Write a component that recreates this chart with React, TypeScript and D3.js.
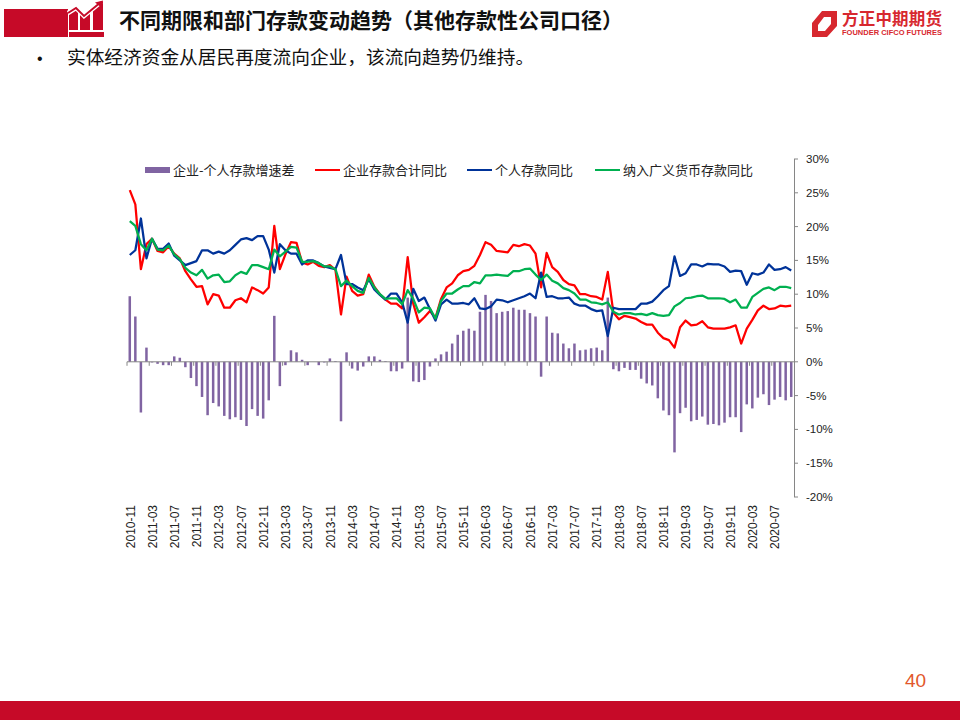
import React from "react";
import * as d3 from "d3";

const spread = [9.7,6.7,-7.5,2.1,-0.1,-0.3,-0.5,-0.5,0.8,0.6,-0.8,-2.4,-3.6,-5.2,-7.9,-6.1,-6.6,-8,-8.5,-8.2,-8.6,-9.5,-7,-8,-8.4,-5.7,6.8,-3.6,-0.5,1.7,1.4,0.3,-0.5,0,-0.5,-0.1,0.5,0.1,-8.8,1.4,-1,-1.3,-0.7,0.8,0.8,0.3,0.1,-1.4,-1.4,-1,9.5,-2.9,-3,-2.7,-0.7,0.5,1.1,1.5,2.7,4,4.6,4.9,4.6,7.4,9.9,9,7.2,7.4,7.5,8,7.7,7.7,7.2,6.7,-2.2,6.7,4.3,4.2,2.7,2,2.7,1.7,1.8,2,2.1,1.7,9.5,-1.1,-1.4,-0.9,-1.2,-1.2,-2.5,-3.2,-3.5,-5.4,-7.2,-7.9,-13.4,-7.6,-6.8,-8.8,-8.6,-8.1,-9.3,-9.2,-9.4,-9,-8.2,-8.2,-10.4,-6.3,-6.9,-5.3,-4.8,-6.4,-5.6,-5.2,-5.7,-5.2];
const corporate = [25.4,23.3,13.7,17.4,18.2,16.4,16.2,17.1,16,15.3,13.4,12.2,11.1,11.2,8.5,10,9.8,8,8,9.1,9.4,8.8,11,10.6,10.1,11,20.1,13.7,15.9,17.7,17.6,14.7,14.4,14.8,14.2,14,14.3,13.6,7,12.6,10.5,9.8,10,12.9,11.1,10,9.2,8.6,8.6,7.9,15.5,8.6,5.8,6.6,7.5,6.5,9.3,11,11.6,12.8,13.4,13.6,14.2,15.8,17.7,17.3,16.4,16.3,16.2,17.3,17.1,17.4,17.2,16,11,16.1,14,13.3,12.1,11.5,11.3,10,10,9.7,9.6,9.2,13.3,7.3,6.3,6.8,6.6,6.4,5.9,5.5,5.5,4.3,3.5,3.2,2.1,5.1,6.1,5.4,5.5,6,5.1,4.9,4.9,4.9,5.1,5.4,2.7,4.9,6.2,7.6,8.3,7.8,7.9,8.3,8.2,8.3];
const personal = [15.8,16.5,21.2,15.3,18.2,16.7,16.7,17.5,15.7,15,14.3,14.6,14.9,16.5,16.5,16,16.3,16,16.5,17.3,18.1,18.3,18,18.6,18.6,16.6,13.2,17.4,16.5,16,16,14.4,15,15,14.6,14.1,13.9,13.7,15.8,11.5,11.5,11,10.6,12.2,10.7,9.9,9.2,10.1,10.1,8.8,5.8,10.8,9,9.5,7.8,6.1,8.5,9.2,8.6,8.6,8.7,8.5,9.4,7.9,7.8,8.2,9.2,9.1,8.8,9.1,9.4,9.7,10.1,9.4,13.2,9.6,9.7,9.4,9.4,9.5,8.6,8.3,8.3,7.8,7.5,7.6,3.8,8,7.8,7.8,7.8,7.8,8.6,8.6,8.9,9.7,10.6,11.2,15.6,12.7,13.1,14.4,14.4,14.1,14.5,14.4,14.4,14.1,13.3,13.5,13.4,11.4,13.1,12.9,13.2,14.4,13.6,13.7,14,13.5];
const broadMoney = [20.8,20.1,17.4,16.5,18.2,16.6,16.5,17.2,15.9,15.2,13.9,13.2,12.8,13.6,12.3,12.8,12.9,11.8,11.9,12.8,13.3,13,14.3,14.3,14,13.7,16.6,15.6,16.3,17,16.9,14.8,14.8,14.9,14.6,14.1,14.1,13.7,11.2,12,11.2,10.5,10.2,12.4,11,10,9.3,9.4,9.4,8.5,10.6,9.3,7.3,8,7.9,6.4,9,10.1,10.1,10.7,11.2,11.2,11.8,11.6,12.8,12.8,12.9,12.8,12.7,13.4,13.4,13.7,13.8,12.9,12.1,12.9,12,11.6,10.9,10.6,10.1,9.2,9.2,8.8,8.7,8.5,8.8,7.4,7,7.2,7.2,7,7.1,6.9,7.2,6.9,6.8,6.9,8.2,8.7,9.4,9.5,9.7,9.8,9.4,9.4,9.4,9.3,8.8,9.2,8,8,9.6,10.2,10.8,11,10.6,11.1,11.1,10.9];
const tickLabels = ["2010-11","2011-03","2011-07","2011-11","2012-03","2012-07","2012-11","2013-03","2013-07","2013-11","2014-03","2014-07","2014-11","2015-03","2015-07","2015-11","2016-03","2016-07","2016-11","2017-03","2017-07","2017-11","2018-03","2018-07","2018-11","2019-03","2019-07","2019-11","2020-03","2020-07"];
const yTicks = [30,25,20,15,10,5,0,-5,-10,-15,-20];
const legendNames = ["企业-个人存款增速差","企业存款合计同比","个人存款同比","纳入广义货币存款同比"];

const RED = "#C60A28";
const FONT = "'Liberation Sans','Noto Sans CJK SC',sans-serif";
const CJK = "'Noto Sans CJK SC','Liberation Sans',sans-serif";

export default function App() {
  const x = d3.scaleBand<number>().domain(d3.range(spread.length)).range([127, 794]).paddingInner(0.55).paddingOuter(0.275);
  const step = x.step();
  const y = d3.scaleLinear().domain([-20, 30]).range([497, 159]);
  const cx = (i: number) => (x(i) as number) + x.bandwidth() / 2;
  const line = d3.line<number>().x((_, i) => cx(i)).y((d) => y(d));
  const series = [
    { v: corporate, c: "#FF0000" },
    { v: personal, c: "#003399" },
    { v: broadMoney, c: "#00B050" },
  ];
  const legendX = [145, 315, 467, 595];
  const gray = "#868686";
  return (
    <svg width={960} height={720} viewBox="0 0 960 720" style={{ position: "absolute", left: 0, top: 0, background: "#fff" }} fontFamily={FONT}>
      {/* header */}
      <rect x={4} y={9} width={64} height={28} fill={RED} />
      <path d="M69 30V14L76 9L78 10.5V30Z M80 30V12.5L84 16L90 11.5V30Z M93 30V9L103 1.5V30Z" fill={RED} />
      <rect x={69} y={32} width={35} height={5} fill={RED} />
      <polyline points="68,13 76,8 84,16 101,2" fill="none" stroke="#fff" strokeWidth={4.5} />
      <polyline points="68,13 76,8 84,16 101,2" fill="none" stroke={RED} strokeWidth={2} />
      <path d="M95 2.5L103 0.5L102 8Z" fill={RED} />
      <text x={119} y={28} fontFamily={CJK} fontSize={21} fontWeight={700} fill="#111">不同期限和部门存款变动趋势（其他存款性公司口径）</text>
      <text x={37} y={64} fontSize={16} fill="#111">•</text>
      <text x={67} y={64} fontFamily={CJK} fontSize={18.7} fill="#111">实体经济资金从居民再度流向企业，该流向趋势仍维持。</text>
      {/* logo */}
      <path fillRule="evenodd" d="M812 23L822 11H837V26L827 37H812ZM818 25V31H825L831 24V17H824Z" fill="#D7282F" />
      <text x={842} y={25} fontFamily={CJK} fontSize={16.5} fontWeight={700} fill="#D7282F" textLength={100}>方正中期期货</text>
      <text x={842} y={35} fontSize={7} fontWeight={700} fill="#D7282F" textLength={100} lengthAdjust="spacingAndGlyphs">FOUNDER CIFCO FUTURES</text>
      {/* legend */}
      <rect x={legendX[0]} y={167} width={25} height={6} fill="#8064A2" />
      <text x={173} y={174.5} fontFamily={CJK} fontSize={13} fill="#222">{legendNames[0]}</text>
      {series.map((s, i) => (
        <g key={i}>
          <line x1={legendX[i + 1]} x2={legendX[i + 1] + 25} y1={170} y2={170} stroke={s.c} strokeWidth={2} />
          <text x={legendX[i + 1] + 28} y={174.5} fontFamily={CJK} fontSize={13} fill="#222">{legendNames[i + 1]}</text>
        </g>
      ))}
      {/* bars */}
      {spread.map((d, i) => (
        <rect key={i} x={x(i)} y={Math.min(y(d), y(0))} width={x.bandwidth()} height={Math.abs(y(d) - y(0))} fill="#8064A2" />
      ))}
      {/* category axis */}
      <line x1={127} x2={794} y1={y(0)} y2={y(0)} stroke={gray} />
      {tickLabels.map((t, k) => {
        const tx = 127 + k * 4 * step;
        return (
          <g key={t}>
            <line x1={tx} x2={tx} y1={y(0)} y2={y(0) + 4} stroke={gray} />
            <text transform={`translate(${tx + 7.5},505) rotate(-90)`} textAnchor="end" fontSize={12} fill="#222">{t}</text>
          </g>
        );
      })}
      {/* value axis */}
      <line x1={794.5} x2={794.5} y1={159} y2={497} stroke={gray} />
      {yTicks.map((t) => (
        <g key={t}>
          <line x1={794} x2={798} y1={y(t)} y2={y(t)} stroke={gray} />
          <text x={806} y={y(t) + 4} fontSize={11.5} fill="#222">{`${t}%`}</text>
        </g>
      ))}
      {/* lines */}
      {series.map((s, i) => (
        <path key={i} d={line(s.v) as string} fill="none" stroke={s.c} strokeWidth={2.25} strokeLinejoin="round" />
      ))}
      {/* footer */}
      <text x={905} y={687} fontSize={19} fill="#E2572B">40</text>
      <rect x={0} y={701} width={960} height={19} fill={RED} />
    </svg>
  );
}
